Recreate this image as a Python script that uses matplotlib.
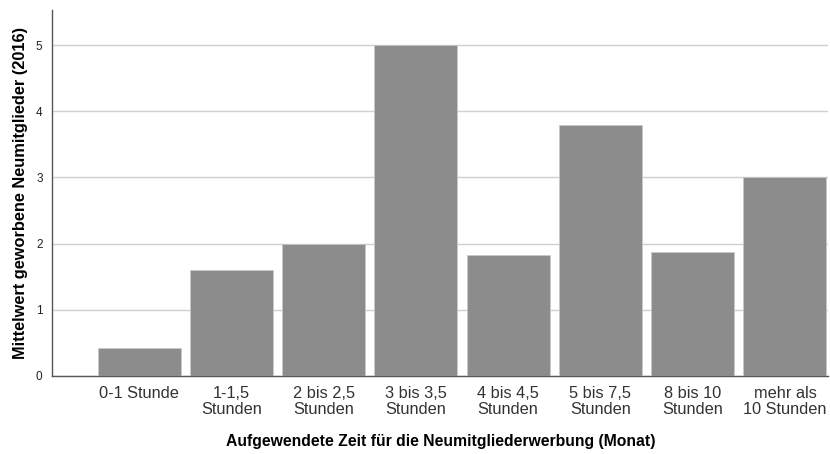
import matplotlib
matplotlib.use("Agg")
import matplotlib.pyplot as plt
import numpy as np

plt.rcParams["font.family"] = ["Liberation Sans", "DejaVu Sans"]

# Mittelwerte je Zeitkategorie
kategorien = ["0-1 Stunde", "1-1,5\nStunden", "2 bis 2,5\nStunden", "3 bis 3,5\nStunden",
              "4 bis 4,5\nStunden", "5 bis 7,5\nStunden", "8 bis 10\nStunden", "mehr als\n10 Stunden"]
mittelwerte = [0.42, 1.6, 2.0, 5.0, 1.83, 3.79, 1.87, 3.0]
y_ticks = [0, 1, 2, 3, 4, 5]

fig = plt.figure(figsize=(8.3, 4.54), dpi=100)
ax = fig.add_axes([0.063, 0.172, 0.935, 0.806])

x = np.arange(len(kategorien))
ax.bar(x, mittelwerte, width=0.9, color="#8c8c8c", edgecolor="#c8c8c8", linewidth=0.6, zorder=3)

ax.set_xlim(-0.94, 7.47)
ax.set_ylim(0, 5.53)
ax.set_yticks(y_ticks)
ax.set_yticklabels([str(t) for t in y_ticks], fontsize=8.5, color="#222222")
ax.set_xticks(x)
ax.set_xticklabels(kategorien, fontsize=11.8, color="#333333", linespacing=1.15)
ax.tick_params(axis="x", length=0, pad=7)
ax.tick_params(axis="y", length=0, pad=7)

ax.yaxis.grid(True, color="#cfcfcf", linewidth=1, zorder=0)
for s in ["top", "right"]:
    ax.spines[s].set_visible(False)
for s in ["left", "bottom"]:
    ax.spines[s].set_color("#555555")
    ax.spines[s].set_linewidth(1)

ax.set_xlabel("Aufgewendete Zeit für die Neumitgliederwerbung (Monat)", fontsize=11.3,
              fontweight="bold", labelpad=12)
ax.set_ylabel("Mittelwert geworbene Neumitglieder (2016)", fontsize=11.8,
              fontweight="bold", labelpad=6)

fig.savefig("out.png", dpi=100)
